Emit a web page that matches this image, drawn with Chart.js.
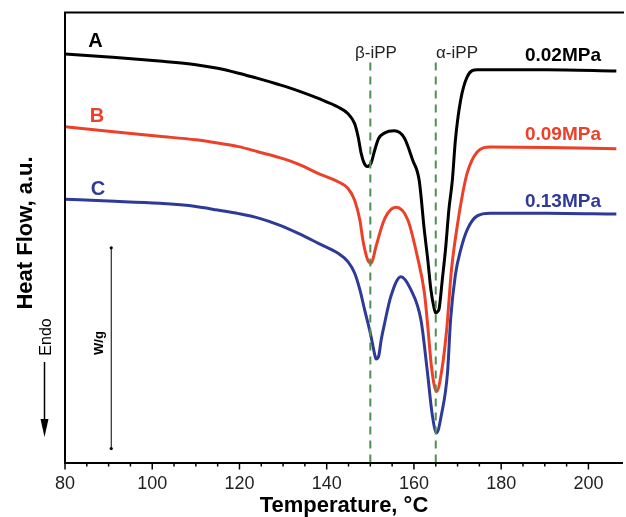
<!DOCTYPE html>
<html>
<head>
<meta charset="utf-8">
<script src="https://cdn.jsdelivr.net/npm/chart.js@4/dist/chart.umd.min.js"></script>
<style>
  html, body { margin: 0; padding: 0; background: #fff; }
  #wrap { width: 626px; height: 517px; position: relative; }
</style>
</head>
<body>
<div id="wrap"><canvas id="c" width="626" height="517"></canvas></div>
<script>
// ---- data (temperature in °C, heat flow in arbitrary units) ----
const tempA = [80, 90, 101.6, 110, 115, 119.8, 124.4, 129.0, 133.5, 138.1, 142.6, 144.9, 146.4, 147.2, 147.9, 148.6, 149.3, 150.2, 151.0, 151.9, 153.2, 155.5, 157.8, 159.7, 161.2, 162.4, 163.1, 163.9, 164.6, 165.0, 165.4, 165.8, 166.5, 167.3, 168.0, 168.8, 169.5, 170.7, 172.2, 174.5, 176.8, 190.4, 206.4];
const flowA = [90.8, 90.1, 89.2, 88.4, 87.6, 86.5, 85.3, 84.0, 82.6, 80.9, 79.0, 77.5, 75.3, 72.4, 68.7, 66.5, 65.8, 66.6, 69.4, 72.0, 73.2, 73.7, 72.1, 67.2, 62.7, 51.4, 45.7, 38.3, 34.4, 33.2, 33.5, 34.3, 40.6, 48.0, 56.1, 62.7, 71.6, 80.5, 85.7, 87.3, 87.3, 87.3, 87.0];

const tempB = [80, 90, 101.6, 110, 115, 119.8, 124.4, 129.0, 133.5, 138.1, 142.6, 144.9, 146.4, 147.6, 148.3, 149.4, 150.2, 151.3, 152.9, 154.0, 155.9, 158.6, 160.8, 162.4, 163.1, 164.1, 165.2, 166.4, 167.5, 168.6, 169.9, 171.1, 172.2, 174.5, 177.5, 190.4, 206.4];
const flowB = [74.6, 73.6, 72.5, 71.7, 71.0, 70.2, 69.0, 67.8, 66.3, 64.2, 62.4, 60.9, 58.3, 53.9, 49.4, 45.0, 44.3, 48.0, 53.2, 55.4, 56.7, 53.9, 45.7, 37.7, 31.0, 20.6, 15.8, 20.6, 29.5, 42.8, 52.4, 59.4, 64.3, 69.0, 70.1, 70.0, 69.7];

const tempC = [80, 90, 101.6, 110, 115, 119.8, 124.4, 129.0, 133.5, 138.1, 142.6, 144.9, 146.4, 147.6, 148.7, 149.4, 150.1, 150.6, 151.0, 151.3, 151.9, 152.5, 153.2, 154.7, 157.0, 159.3, 161.6, 163.1, 164.2, 165.2, 166.3, 167.7, 168.4, 169.5, 170.7, 172.2, 174.5, 177.5, 190.4, 206.4];
const flowC = [58.5, 58.1, 57.6, 56.9, 56.1, 55.3, 54.3, 52.8, 50.9, 48.7, 46.5, 44.6, 42.1, 38.4, 33.9, 31.2, 28.3, 25.9, 24.0, 23.0, 23.6, 27.3, 30.6, 36.9, 41.3, 38.4, 31.7, 20.0, 10.6, 6.6, 10.6, 20.0, 31.7, 41.7, 47.2, 51.7, 54.8, 55.4, 55.4, 55.2];

const seriesNames = ['A', 'B', 'C'];
const pressures = ['0.02MPa', '0.09MPa', '0.13MPa'];
const phaseTemps = [150, 165];
const phaseNames = ['β-iPP', 'α-iPP'];
const phaseSpan = [0, 89];
const scaleBarTemp = 90.6;
const scaleBarSpan = [3.1, 47.7];
const xTickLabels = [80, 100, 120, 140, 160, 180, 200];

// ---- styling ----
const colA = '#000000', colB = '#ec4128', colC = '#2e3a98', colDash = '#4f8f52';

function pts(xs, ys) { return xs.map((x, i) => ({ x: x, y: ys[i] })); }

const curve = (label, data, color) => ({
  label, data, borderColor: color, borderWidth: 3, pointRadius: 0,
  cubicInterpolationMode: 'monotone', fill: false
});

const datasets = [
  ...phaseTemps.map((t, i) => ({
    label: phaseNames[i], data: pts([t, t], phaseSpan), borderColor: colDash,
    borderWidth: 2, borderDash: [8, 6], pointRadius: 0, fill: false
  })),
  {
    label: 'W/g', data: pts([scaleBarTemp, scaleBarTemp], scaleBarSpan), borderColor: '#000',
    borderWidth: 1, pointRadius: 1.6, pointBackgroundColor: '#000', pointBorderWidth: 0, fill: false
  },
  curve(seriesNames[0], pts(tempA, flowA), colA),
  curve(seriesNames[1], pts(tempB, flowB), colB),
  curve(seriesNames[2], pts(tempC, flowC), colC)
];

const FONT = '"Liberation Sans", Arial, Helvetica, sans-serif';

const decor = {
  id: 'decor',
  afterDraw(chart) {
    const ctx = chart.ctx;
    const a = chart.chartArea;
    const xs = chart.scales.x;
    ctx.save();
    // frame: left and top lines
    ctx.strokeStyle = '#000';
    ctx.lineWidth = 2;
    ctx.beginPath();
    ctx.moveTo(a.left, a.bottom + 1);
    ctx.lineTo(a.left, a.top);
    ctx.lineTo(a.right + 2, a.top);
    ctx.stroke();
    // ticks on x axis
    ctx.lineWidth = 1.5;
    xs.ticks.forEach(t => {
      const px = xs.getPixelForValue(t.value);
      const major = xTickLabels.includes(t.value);
      ctx.beginPath();
      ctx.moveTo(px, a.bottom);
      ctx.lineTo(px, a.bottom + (major ? 7 : 4));
      ctx.stroke();
    });
    // axis titles
    ctx.fillStyle = '#000';
    ctx.font = 'bold 22px ' + FONT;
    ctx.textAlign = 'center';
    ctx.textBaseline = 'alphabetic';
    ctx.fillText('Temperature, °C', 344, 512);
    ctx.save();
    ctx.translate(32, 233);
    ctx.rotate(-Math.PI / 2);
    ctx.fillText('Heat Flow, a.u.', 0, 0);
    ctx.restore();
    // Endo arrow
    ctx.save();
    ctx.translate(51, 337);
    ctx.rotate(-Math.PI / 2);
    ctx.font = '16px ' + FONT;
    ctx.fillText('Endo', 0, 0);
    ctx.restore();
    ctx.lineWidth = 1.5;
    ctx.beginPath();
    ctx.moveTo(44.5, 362);
    ctx.lineTo(44.5, 422);
    ctx.stroke();
    ctx.beginPath();
    ctx.moveTo(40.5, 419);
    ctx.lineTo(48.5, 419);
    ctx.lineTo(44.5, 437);
    ctx.closePath();
    ctx.fill();
    // W/g
    ctx.save();
    ctx.translate(103, 343);
    ctx.rotate(-Math.PI / 2);
    ctx.font = 'bold 13px ' + FONT;
    ctx.fillText('W/g', 0, 0);
    ctx.restore();
    // series letters
    ctx.font = 'bold 20px ' + FONT;
    const cols = [colA, colB, colC];
    const letterPos = [[95.5, 47], [97, 122], [98, 195]];
    seriesNames.forEach((s, i) => {
      ctx.fillStyle = cols[i];
      ctx.fillText(s, letterPos[i][0], letterPos[i][1]);
    });
    // pressures
    ctx.font = 'bold 19px ' + FONT;
    ctx.textAlign = 'right';
    const pY = [61, 140, 207];
    pressures.forEach((p, i) => {
      ctx.fillStyle = cols[i];
      ctx.fillText(p, 601, pY[i]);
    });
    // phase labels
    ctx.font = '17px ' + FONT;
    ctx.textAlign = 'center';
    ctx.fillStyle = '#222';
    const phaseX = [376, 457];
    phaseNames.forEach((n, i) => ctx.fillText(n, phaseX[i], 58));
    ctx.restore();
  }
};

new Chart(document.getElementById('c'), {
  type: 'line',
  data: { datasets },
  options: {
    responsive: false,
    animation: false,
    events: [],
    layout: { padding: { left: 65, top: 12.5, right: 0, bottom: 0 } },
    plugins: { legend: { display: false }, tooltip: { enabled: false } },
    scales: {
      x: {
        type: 'linear', min: 80, max: 207.7,
        afterFit(scale) { scale.height = 54.5; },
        afterBuildTicks(scale) { scale.ticks = scale.ticks.filter(t => t.value % 5 === 0); },
        ticks: {
          stepSize: 5, autoSkip: false, maxRotation: 0, padding: 11,
          color: '#222', font: { family: FONT, size: 18 },
          callback: v => (xTickLabels.includes(v) ? String(v) : '')
        },
        grid: { display: true, drawOnChartArea: false, drawTicks: false },
        border: { display: true, color: '#000', width: 2 }
      },
      y: { type: 'linear', min: 0, max: 100, display: false }
    }
  },
  plugins: [decor]
});
</script>
</body>
</html>
